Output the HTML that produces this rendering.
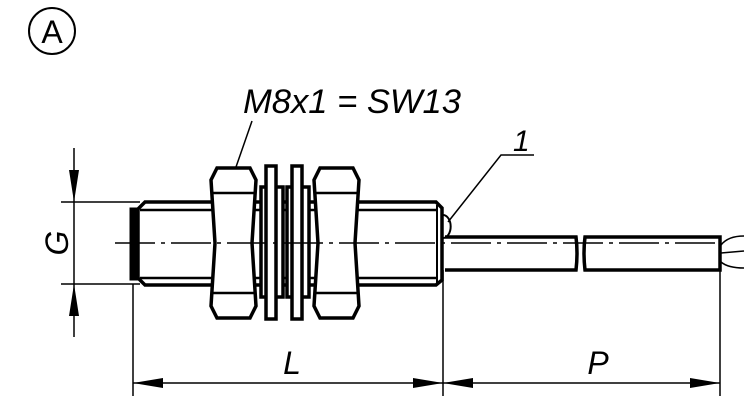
<!DOCTYPE html>
<html><head><style>body{margin:0;background:#fff}svg{display:block}</style></head><body>
<svg width="750" height="403" viewBox="0 0 750 403" xmlns="http://www.w3.org/2000/svg" font-family="Liberation Sans, sans-serif">
<rect width="750" height="403" fill="#fff"/>
<circle cx="52" cy="31" r="23" fill="none" stroke="#000" stroke-width="2"/>
<text x="52" y="43" font-size="32" text-anchor="middle">A</text>
<text x="243" y="113" font-size="34" font-style="italic" textLength="218" lengthAdjust="spacingAndGlyphs">M8x1 = SW13</text>
<text x="513" y="151" font-size="30" font-style="italic">1</text>
<g stroke="#000" fill="none">
<line x1="252" y1="121" x2="228" y2="190" stroke-width="1.5"/>
<polyline points="448,222 501,155 534,155" stroke-width="1.5"/>
<path d="M145,202 L436,202 L442,208 L442,280 L436,285 L145,285 L138,278 L138,209 Z" stroke-width="3.5" fill="#fff"/>
<line x1="140" y1="210" x2="436" y2="210" stroke-width="2.5"/>
<line x1="140" y1="278" x2="436" y2="278" stroke-width="2.5"/>
<rect x="131" y="209" width="7" height="70" stroke-width="3" fill="#000"/>
<line x1="437" y1="205" x2="437" y2="283" stroke-width="2"/>
<path d="M443,215 A6,9 0 0 1 443,238" stroke-width="2"/>
<g stroke-width="3.5" fill="#fff">
<path d="M217,168 L250,168 L256,180 L252,243 L256,306 L250,318 L217,318 L211,306 L215,243 L211,180 Z"/>
<path d="M320,168 L353,168 L359,180 L355,243 L359,306 L353,318 L320,318 L314,306 L318,243 L314,180 Z"/>
<rect x="261" y="187" width="22" height="110"/>
<rect x="266" y="166" width="10" height="153"/>
<rect x="287" y="187" width="22" height="110"/>
<rect x="292" y="166" width="10" height="153"/>
</g>
<line x1="213" y1="193" x2="254" y2="193" stroke-width="2.5"/>
<line x1="213" y1="293" x2="254" y2="293" stroke-width="2.5"/>
<line x1="316" y1="193" x2="357" y2="193" stroke-width="2.5"/>
<line x1="316" y1="293" x2="357" y2="293" stroke-width="2.5"/>
<path d="M445,237 L576,237 Q578,253 576,270 L445,270" stroke-width="3.5"/>
<path d="M720,237 L585,237 Q583,253 585,270 L720,270 Z" stroke-width="3.5"/>
<path d="M721,245 Q728,236 744,236 M721,253 L744,251 M721,262 Q728,268 744,268" stroke-width="1.5"/>
<line x1="115" y1="243" x2="720" y2="243" stroke-width="1.5" stroke-dasharray="40,6,4,6"/>
<g stroke-width="1.5">
<line x1="61" y1="202" x2="140" y2="202"/>
<line x1="61" y1="284" x2="140" y2="284"/>
<line x1="74" y1="148" x2="74" y2="337"/>
<line x1="133" y1="284" x2="133" y2="396"/>
<line x1="443" y1="270" x2="443" y2="396"/>
<line x1="720" y1="270" x2="720" y2="396"/>
<line x1="133" y1="383" x2="720" y2="383"/>
</g>
</g>
<g fill="#000">
<polygon points="74,202 69,170 79,170"/>
<polygon points="74,284 69,316 79,316"/>
<polygon points="133,383 163,378 163,388"/>
<polygon points="443,383 413,378 413,388"/>
<polygon points="443,383 473,378 473,388"/>
<polygon points="720,383 690,378 690,388"/>
</g>
<text x="292" y="374" font-size="32" font-style="italic" text-anchor="middle">L</text>
<text x="598" y="374" font-size="32" font-style="italic" text-anchor="middle">P</text>
<text transform="translate(68,243) rotate(-90)" font-size="32" font-style="italic" text-anchor="middle">G</text>
</svg>
</body></html>
